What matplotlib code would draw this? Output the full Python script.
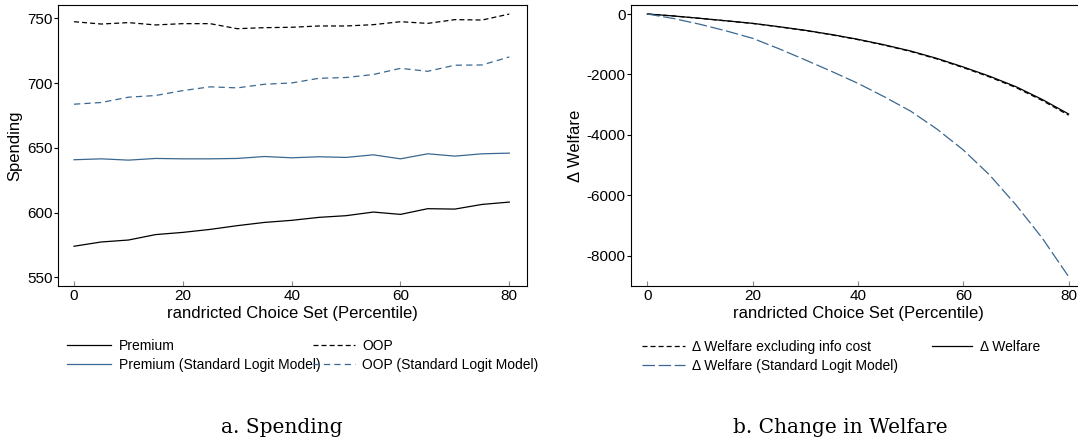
import numpy as np
import matplotlib
matplotlib.use("Agg")
import matplotlib.pyplot as plt
from matplotlib.lines import Line2D

plt.rcParams['font.family'] = ['Liberation Sans', 'DejaVu Sans']
plt.rcParams['lines.scale_dashes'] = False
plt.rcParams['axes.unicode_minus'] = False

# --- datos ---
pct = [0, 5, 10, 15, 20, 25, 30, 35, 40, 45, 50, 55, 60, 65, 70, 75, 80]

premium = [574.0, 577.3, 578.8, 583.0, 584.7, 587.0, 589.9, 592.4, 594.0,
           596.3, 597.6, 600.4, 598.6, 603.0, 602.7, 606.3, 608.1]
oop = [747.4, 745.6, 746.7, 744.9, 745.9, 745.9, 742.0, 742.8, 743.1,
       744.1, 744.1, 745.1, 747.4, 746.1, 749.0, 748.7, 753.3]
premium_logit = [640.8, 641.5, 640.5, 641.8, 641.5, 641.5, 641.8, 643.3, 642.3,
                 643.1, 642.6, 644.6, 641.5, 645.4, 643.6, 645.4, 645.9]
oop_logit = [683.7, 685.0, 689.1, 690.4, 694.2, 697.1, 696.3, 699.1, 700.1,
             703.7, 704.3, 706.6, 711.4, 709.1, 713.8, 714.0, 720.2]

dw_excl = [0, -66, -145, -228, -313, -425, -547, -688, -848, -1032, -1240,
           -1488, -1775, -2085, -2435, -2865, -3350]
dw = [0, -65, -143, -225, -309, -420, -540, -680, -838, -1020, -1225,
      -1470, -1754, -2060, -2406, -2830, -3310]
dw_logit = [0, -150, -340, -560, -805, -1150, -1520, -1900, -2295, -2740,
            -3215, -3810, -4500, -5330, -6320, -7420, -8695]

xlab = 'randricted Choice Set (Percentile)'
blue = '#3b6890'
dash_k = (0, (3.6, 2.2))
dash_b = (0, (4.5, 3.0))
dash_long = (0, (9.0, 2.6))
lw = 0.9

W, H = 1078, 445
fig = plt.figure(figsize=(W / 100, H / 100), dpi=100)


def px_axes(x0, x1, y0, y1):
    return fig.add_axes([x0 / W, 1 - y1 / H, (x1 - x0) / W, (y1 - y0) / H])


def style(ax):
    for s in ax.spines.values():
        s.set_linewidth(0.8)
        s.set_color('black')
    ax.tick_params(axis='x', direction='in', length=3.5, width=0.8,
                   color='#888888', pad=2, labelsize=11)
    ax.tick_params(axis='y', direction='out', length=3, width=0.8,
                   pad=0.5, labelsize=11)
    ax.set_xticks([0, 20, 40, 60, 80])
    ax.set_xlabel(xlab, fontsize=12, labelpad=2)


# --- panel a ---
ax1 = px_axes(57.7, 526.7, 5, 286)
ax1.plot(pct, premium, color='black', lw=lw)
ax1.plot(pct, oop, color='black', lw=lw, linestyle=dash_k)
ax1.plot(pct, premium_logit, color=blue, lw=lw)
ax1.plot(pct, oop_logit, color=blue, lw=lw, linestyle=dash_b)
ax1.set_xlim(-3.0, 83.2)
ax1.set_ylim(543.3, 760.3)
ax1.set_yticks([550, 600, 650, 700, 750])
ax1.set_ylabel('Spending', fontsize=12, labelpad=4)
style(ax1)

# --- panel b ---
ax2 = px_axes(630.7, 1085.5, 5, 286)
ax2.plot(pct, dw_excl, color='black', lw=lw, linestyle=dash_k)
ax2.plot(pct, dw, color='black', lw=lw)
ax2.plot(pct, dw_logit, color=blue, lw=lw, linestyle=dash_long)
ax2.set_xlim(-3.15, 83.2)
ax2.set_ylim(-9003, 298)
ax2.set_yticks([0, -2000, -4000, -6000, -8000])
ax2.set_ylabel('Δ Welfare', fontsize=12, labelpad=3)
style(ax2)


def leg(handles, labels, x, y, hl):
    lg = fig.legend(handles, labels, loc='upper left',
                    bbox_to_anchor=(x / W, 1 - y / H), frameon=False,
                    fontsize=10, handlelength=hl, handletextpad=0.55,
                    labelspacing=0.35, borderpad=0, borderaxespad=0)
    return lg


h = lambda c, ls: Line2D([], [], color=c, lw=lw, linestyle=ls)
leg([h('black', '-'), h(blue, '-')],
    ['Premium', 'Premium (Standard Logit Model)'], 67, 339, 3.2)
leg([h('black', dash_k), h(blue, dash_b)],
    ['OOP', 'OOP (Standard Logit Model)'], 313, 339, 3.0)
leg([h('black', dash_k), h(blue, dash_long)],
    ['Δ Welfare excluding info cost', 'Δ Welfare (Standard Logit Model)'],
    641.7, 340, 3.1)
leg([h('black', '-')], ['Δ Welfare'], 931.7, 340, 2.9)

# --- subtítulos ---
fig.text(281.5 / W, 12 / H, 'a. Spending', family='DejaVu Serif',
         fontsize=14.5, ha='center', va='baseline')
fig.text(840 / W, 12 / H, 'b. Change in Welfare', family='DejaVu Serif',
         fontsize=14.5, ha='center', va='baseline')

fig.savefig('out.png', dpi=100)
